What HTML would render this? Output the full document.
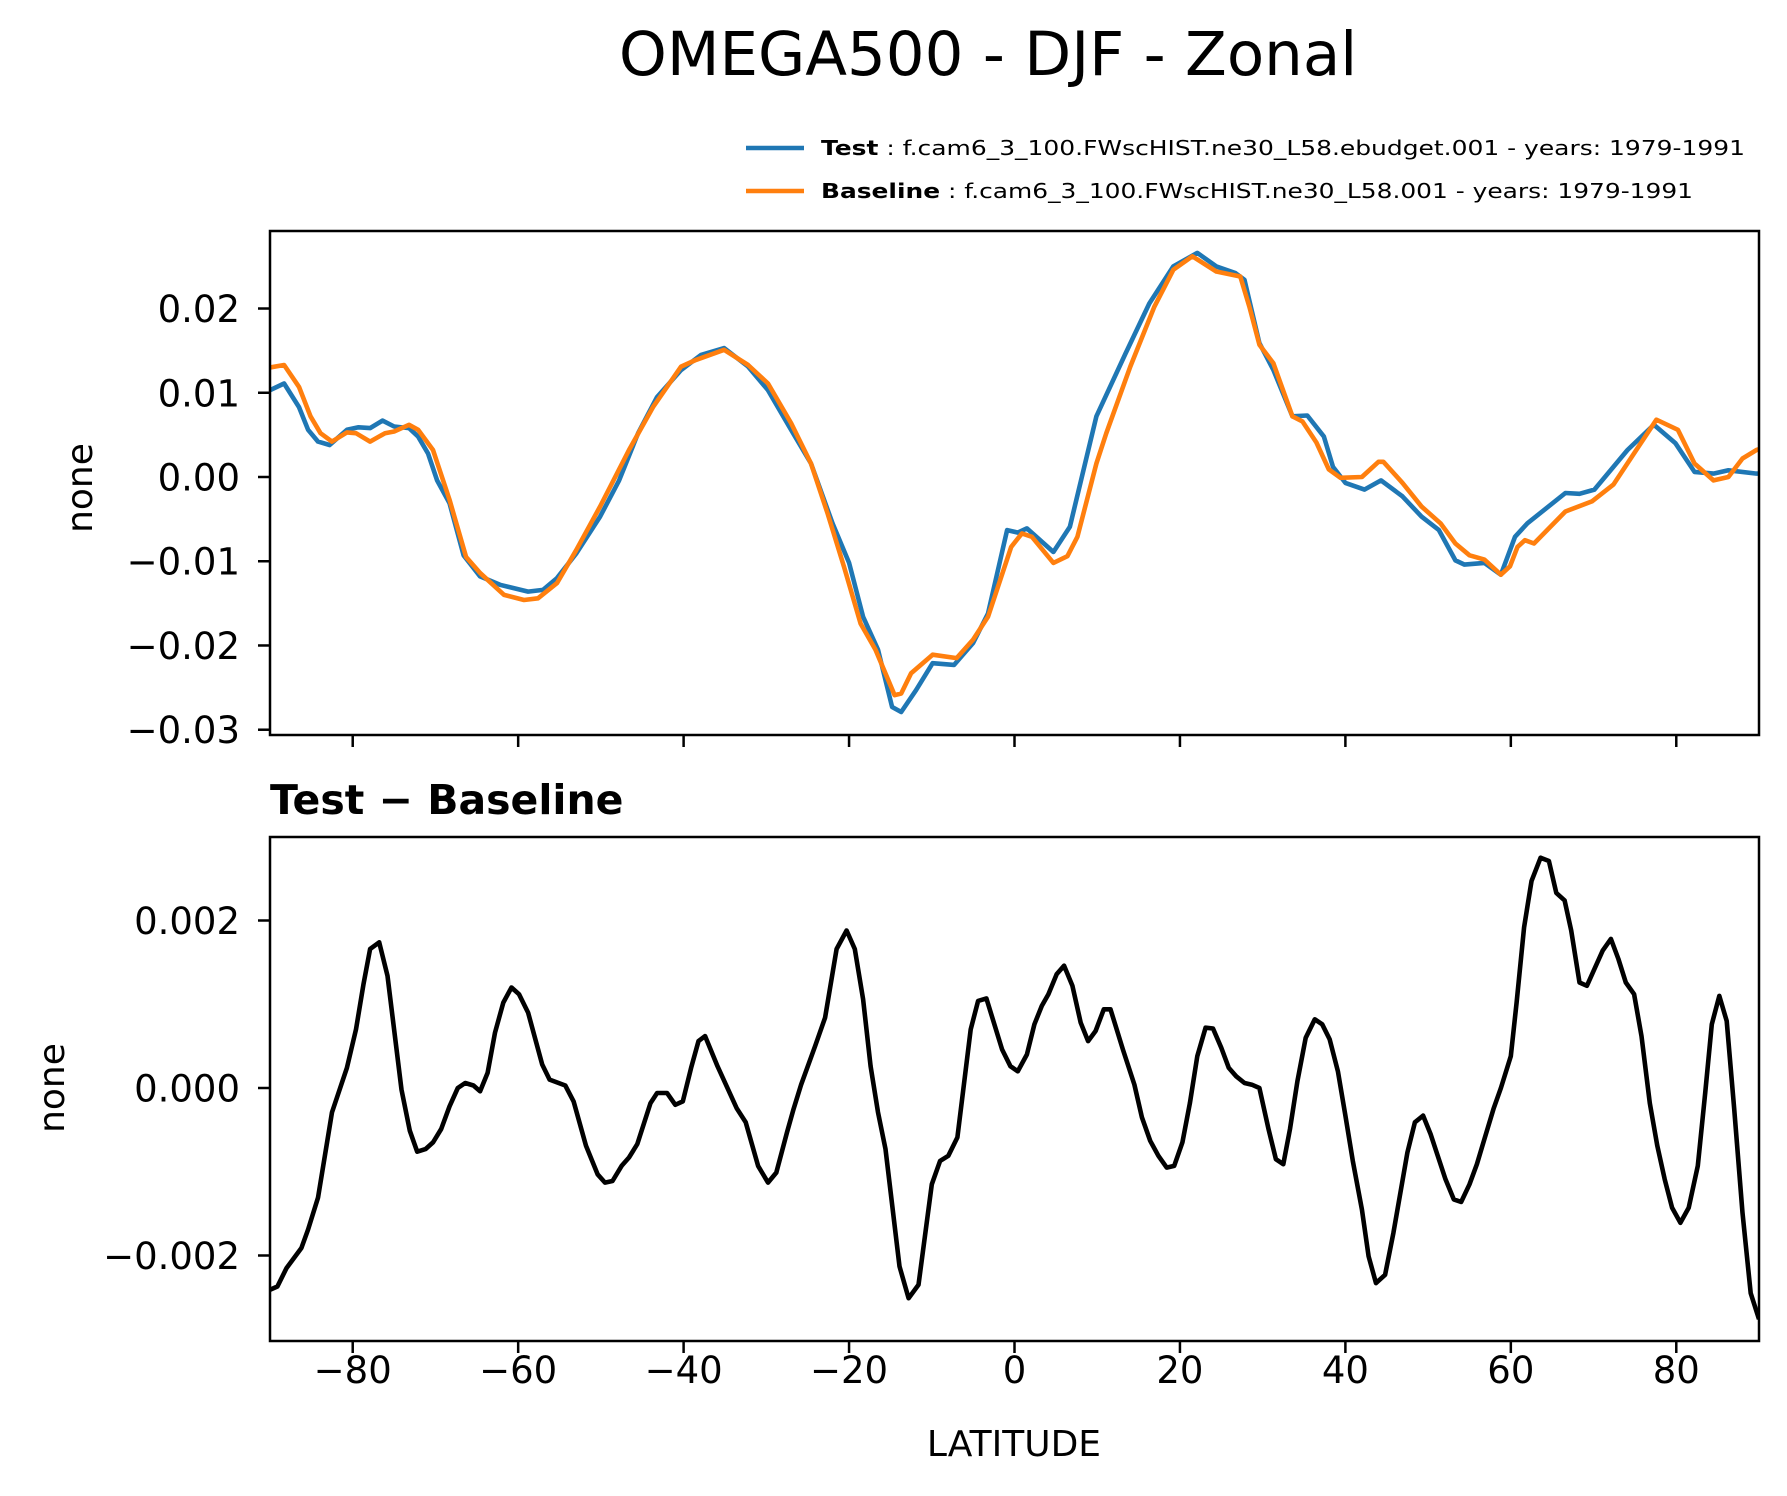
<!DOCTYPE html>
<html><head><meta charset="utf-8"><style>
html,body{margin:0;padding:0;background:#fff;}
svg{display:block;}
text{font-family:"DejaVu Sans","Liberation Sans",sans-serif;fill:#000;}
</style></head><body>
<svg id="fig" width="1787" height="1496" viewBox="0 0 1787 1496" xmlns="http://www.w3.org/2000/svg">
<text x="988" y="75" font-size="61" text-anchor="middle">OMEGA500 - DJF - Zonal</text>
<g>
<line x1="746" y1="148" x2="804" y2="148" stroke="#1f77b4" stroke-width="4.5"/>
<text x="821" y="155" font-size="20" textLength="924" lengthAdjust="spacingAndGlyphs"><tspan font-weight="bold">Test</tspan> : f.cam6_3_100.FWscHIST.ne30_L58.ebudget.001 - years: 1979-1991</text>
<line x1="746" y1="191" x2="804" y2="191" stroke="#ff7f0e" stroke-width="4.5"/>
<text x="821" y="198" font-size="20" textLength="872" lengthAdjust="spacingAndGlyphs"><tspan font-weight="bold">Baseline</tspan> : f.cam6_3_100.FWscHIST.ne30_L58.001 - years: 1979-1991</text>
</g>
<text x="270" y="814" font-size="41" font-weight="bold">Test − Baseline</text>
<text x="1014" y="1456" font-size="36" text-anchor="middle">LATITUDE</text>
<text transform="translate(92,488) rotate(-90)" font-size="36" text-anchor="middle">none</text>
<text transform="translate(64,1088) rotate(-90)" font-size="36" text-anchor="middle">none</text>
<g id="top"></g>
<g id="bot"></g>
</svg>
<script>
const testLat=[-90,-88.3,-86.5,-85.4,-84.2,-82.8,-80.7,-79.3,-77.9,-76.4,-75,-73.2,-72.1,-70.9,-69.8,-68.3,-66.6,-64.6,-62.2,-58.8,-57,-55.3,-53,-50.1,-47.8,-45.5,-43.2,-40.3,-37.9,-35.1,-32.2,-29.8,-27,-24.6,-22,-20,-18.3,-16.5,-14.8,-13.7,-11.9,-9.9,-7.3,-5,-3.2,-0.9,0.4,1.5,4.7,6.7,9.9,13.4,16.3,19.2,22.1,24.4,26.7,27.8,29.6,31.3,33.6,35.4,37.4,38.5,40,42.3,44.3,46.9,49.2,51.3,53.3,54.4,56.8,58.8,60.5,62,66.6,68.3,70.1,74.1,77.3,79.9,82.2,84.5,86.3,89.7,90];
const testVal=[10.3,11.1,8.3,5.6,4.2,3.8,5.6,5.9,5.8,6.7,6.0,5.8,4.8,2.8,-0.4,-3.1,-9.3,-11.8,-12.8,-13.6,-13.4,-12.0,-9.1,-4.7,-0.4,5.2,9.5,12.7,14.5,15.3,13.1,10.3,5.6,1.6,-5.5,-10.2,-16.6,-20.5,-27.3,-27.9,-25.3,-22.1,-22.3,-19.7,-16.2,-6.3,-6.6,-6.1,-8.9,-5.9,7.2,14.6,20.6,25.0,26.6,25.0,24.2,23.4,15.9,12.7,7.2,7.3,4.8,1.2,-0.7,-1.5,-0.4,-2.3,-4.7,-6.3,-9.9,-10.4,-10.2,-11.6,-7.1,-5.5,-1.9,-2.0,-1.5,3.2,6.2,4.0,0.6,0.4,0.8,0.4,0.4];
const baseLat=[-90,-88.3,-86.5,-85.1,-83.9,-82.5,-80.7,-79.6,-77.9,-76.1,-75,-73.2,-72.1,-70.3,-68.3,-66.3,-64.6,-61.7,-59.3,-57.6,-55.3,-53,-50.1,-46.6,-43.7,-40.3,-38.5,-35.1,-32.2,-29.8,-27,-24.6,-22.6,-20.6,-18.6,-16.8,-14.5,-13.7,-12.5,-9.9,-7,-5,-3.2,-0.4,0.9,2.1,4.7,6.4,7.6,9.9,11.1,14,16.9,19.2,21.5,24.4,27.3,28.4,29.6,31.3,33.6,34.8,36.5,38,39.4,42,44,44.6,46.9,49.2,51.5,53.3,55,56.8,58.8,59.9,60.8,61.7,62.8,66.6,69.8,72.4,74.7,77.6,80.2,82.2,84.5,86.3,88,89.7,90];
const baseVal=[13.0,13.3,10.7,7.2,5.2,4.2,5.3,5.2,4.2,5.2,5.4,6.2,5.6,3.2,-2.7,-9.5,-11.4,-14.0,-14.6,-14.4,-12.6,-8.7,-3.5,3.2,8.3,13.1,13.9,15.1,13.3,11.1,6.4,1.6,-4.3,-10.7,-17.4,-20.5,-25.9,-25.7,-23.3,-21.1,-21.5,-19.3,-16.6,-8.3,-6.7,-7.1,-10.2,-9.4,-7.1,1.6,5.2,13.1,20.2,24.6,26.2,24.4,23.8,20.2,15.7,13.5,7.2,6.6,4.1,0.9,-0.1,0.0,1.8,1.8,-0.7,-3.5,-5.5,-7.9,-9.3,-9.8,-11.6,-10.6,-8.3,-7.5,-7.9,-4.1,-2.9,-0.9,2.5,6.8,5.6,1.6,-0.4,0.0,2.2,3.2,3.3];
const diffLat=[-90,-89.1,-88,-86.2,-85.4,-84.2,-82.5,-80.7,-79.6,-78.7,-77.9,-76.8,-75.8,-74.1,-73.1,-72.2,-71.2,-70.3,-69.3,-68.3,-67.3,-66.4,-65.4,-64.6,-63.7,-62.8,-61.8,-60.8,-59.9,-58.8,-57.1,-56.2,-54.3,-53.3,-51.8,-50.4,-49.5,-48.6,-47.5,-46.6,-45.6,-44,-43.2,-42,-41,-40.1,-39.1,-38.2,-37.4,-35.9,-33.6,-32.5,-31,-29.8,-28.8,-27.5,-26.7,-25.8,-24.1,-22.9,-21.5,-20.3,-19.3,-18.3,-17.4,-16.5,-15.6,-13.9,-12.8,-11.6,-10,-9,-8,-6.9,-5.3,-4.4,-3.4,-1.5,-0.5,0.4,1.5,2.4,3.3,4.1,5.1,6,7,8,8.9,9.8,10.8,11.6,13.1,14.5,15.4,16.4,17.4,18.4,19.3,20.3,21.2,22.1,23.1,24,25,25.9,26.8,27.8,28.7,29.6,30.7,31.6,32.5,33.3,34.2,35.2,36.3,37.2,38.1,39.1,40,40.9,42,42.8,43.7,44.8,45.8,47.5,48.4,49.4,50.3,51.1,52.1,53.1,54,55,55.9,56.8,57.9,58.8,60,60.7,61.6,62.5,63.6,64.6,65.5,66.5,67.3,68.3,69.2,70.1,71.1,72.1,73,73.9,74.9,75.8,76.8,77.7,78.6,79.5,80.5,81.5,82.6,83.5,84.3,85.2,86.1,87,88,89,90];
const diffVal=[-2.41,-2.37,-2.15,-1.91,-1.69,-1.31,-0.29,0.24,0.70,1.24,1.66,1.74,1.34,-0.02,-0.51,-0.76,-0.73,-0.65,-0.49,-0.22,0.00,0.06,0.03,-0.04,0.18,0.66,1.02,1.20,1.12,0.90,0.28,0.10,0.03,-0.16,-0.69,-1.03,-1.13,-1.11,-0.93,-0.83,-0.67,-0.18,-0.06,-0.06,-0.20,-0.16,0.24,0.56,0.62,0.26,-0.24,-0.41,-0.93,-1.13,-1.01,-0.53,-0.25,0.04,0.50,0.84,1.66,1.88,1.66,1.06,0.26,-0.29,-0.73,-2.13,-2.51,-2.35,-1.15,-0.87,-0.81,-0.59,0.70,1.04,1.07,0.46,0.26,0.20,0.40,0.76,0.98,1.12,1.36,1.46,1.22,0.78,0.56,0.68,0.94,0.94,0.46,0.04,-0.35,-0.63,-0.81,-0.95,-0.93,-0.65,-0.18,0.38,0.72,0.71,0.48,0.24,0.14,0.06,0.04,0.00,-0.49,-0.85,-0.91,-0.49,0.08,0.60,0.82,0.76,0.58,0.20,-0.33,-0.87,-1.45,-2.01,-2.33,-2.23,-1.73,-0.77,-0.41,-0.33,-0.55,-0.79,-1.09,-1.33,-1.36,-1.15,-0.91,-0.61,-0.25,0.00,0.38,1.02,1.92,2.47,2.75,2.71,2.33,2.24,1.88,1.26,1.22,1.42,1.64,1.78,1.54,1.26,1.12,0.62,-0.18,-0.69,-1.09,-1.43,-1.61,-1.43,-0.93,-0.06,0.76,1.10,0.80,-0.25,-1.49,-2.45,-2.76];
const xTicks=[-80,-60,-40,-20,0,20,40,60,80];
const topYTicks=[0.02,0.01,0,-0.01,-0.02,-0.03];
const topYLabels=["0.02","0.01","0.00","−0.01","−0.02","−0.03"];
const botYTicks=[0.002,0,-0.002];
const botYLabels=["0.002","0.000","−0.002"];

const NS="http://www.w3.org/2000/svg";
const L=270,R=1759;
function xs(lat){return L+(lat+90)/180*(R-L);}
function ysTop(v){return 477-v*8424;}
function ysBot(v){return 1088-v*83750;}
function mk(tag,attrs,parent){const e=document.createElementNS(NS,tag);for(const k in attrs)e.setAttribute(k,attrs[k]);parent.appendChild(e);return e;}

function panel(g,top,bot,name){
  const cp=mk('clipPath',{id:'clip-'+name},g);
  mk('rect',{x:L,y:top,width:R-L,height:bot-top},cp);
  return cp;
}
function drawAxes(g,top,bot,ys,yT,yL,showXLabels,name){
  const fr=mk('rect',{x:L,y:top,width:R-L,height:bot-top,fill:'none',stroke:'#000','stroke-width':2.5},g);
  
  
  xTicks.forEach(t=>{
    const tk=mk('line',{x1:xs(t),x2:xs(t),y1:bot,y2:bot+12,stroke:'#000','stroke-width':2.5},g);
    
    
    if(showXLabels){
      const tx=mk('text',{x:xs(t),y:1383,'font-size':37,'text-anchor':'middle'},g);
      tx.textContent=(t<0?'−':'')+Math.abs(t);
      
      
    }
  });
  yT.forEach((t,i)=>{
    const y=ys(t);
    const tk=mk('line',{x1:L-12,x2:L,y1:y,y2:y,stroke:'#000','stroke-width':2.5},g);
    
    
    const tx=mk('text',{x:L-30,y:y+13.5,'font-size':37,'text-anchor':'end'},g);
    tx.textContent=yL[i];
    
    
  });
}
function series(g,lat,val,ys,scale,color,name,clip){
  const d=lat.map((la,i)=>(i?'L':'M')+xs(la).toFixed(1)+','+ys(val[i]*scale).toFixed(1)).join(' ');
  const p=mk('path',{d:d,fill:'none',stroke:color,'stroke-width':4.6,'stroke-linejoin':'round','clip-path':'url(#'+clip+')'},g);
  
  
}
const gt=document.getElementById('top');


panel(gt,231,735,'top');
series(gt,testLat,testVal,ysTop,0.001,'#1f77b4','test-line','clip-top');
series(gt,baseLat,baseVal,ysTop,0.001,'#ff7f0e','baseline-line','clip-top');
drawAxes(gt,231,735,ysTop,topYTicks,topYLabels,false,'top');
const gb=document.getElementById('bot');


panel(gb,837,1341,'bot');
series(gb,diffLat,diffVal,ysBot,0.001,'#000','difference-line','clip-bot');
drawAxes(gb,837,1341,ysBot,botYTicks,botYLabels,true,'bottom');
</script>
</body></html>
